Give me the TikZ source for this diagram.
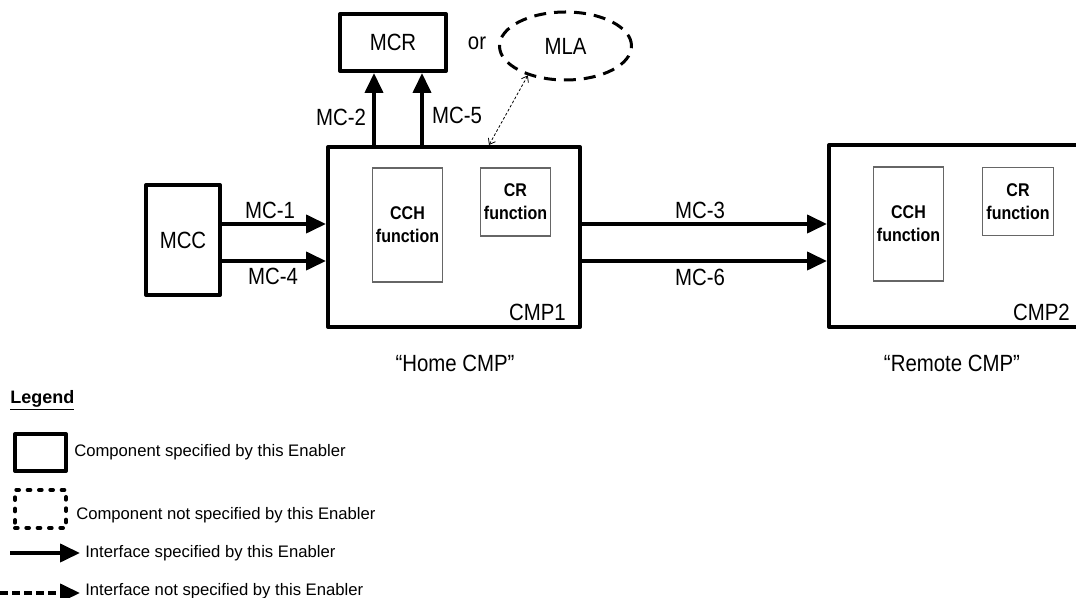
\documentclass[tikz,border=0pt]{standalone}
\usepackage{fontspec}
\setmainfont{Liberation Sans}
\usetikzlibrary{arrows.meta,shapes.geometric}
\newcommand\vstr[1]{\scalebox{1}[1.15]{#1}}
\begin{document}
\begin{tikzpicture}[x=0.75pt,y=-0.75pt,
  comp/.style={draw,line width=3pt,line join=round,inner sep=0pt},
  func/.style={draw=gray!80!black,line width=0.9pt,inner sep=0pt,outer sep=0pt,align=center,font=\fontsize{12}{17}\selectfont\bfseries,minimum width=53pt},
  lbl/.style={inner sep=0pt,font=\fontsize{15.3}{18}\selectfont},
  leg/.style={inner sep=0pt,anchor=west,font=\fontsize{12.5}{15}\selectfont},
  iface/.style={line width=3pt,-{Triangle[length=15pt,width=13.5pt]}},
]
\clip (0,0) rectangle (1076,598);
% top components
\node[comp,minimum width=79.5pt,minimum height=42.75pt,lbl] (MCR) at (393,42.5) {\vstr{MCR}};
\node[lbl] (or) at (477,43) {\vstr{or}};
\node[draw,ellipse,line width=2.25pt,dash pattern=on 9pt off 6pt,minimum width=99pt,minimum height=51pt,lbl] (MLA) at (565.5,46) {\vstr{MLA}};
% main components
\node[comp,minimum width=55.5pt,minimum height=82.5pt,lbl] (MCC) at (183,240) {\vstr{MCC}};
\node[comp,minimum width=189pt,minimum height=135pt] (CMP1) at (454,237) {};
\node[comp,minimum width=203.25pt,minimum height=136.5pt] (CMP2) at (964.5,236) {};
\node[func,minimum height=85.5pt] (CCH1) at (407.5,225) {\vstr{CCH}\\\vstr{function}};
\node[func,minimum height=51pt] (CR1) at (515.5,202) {\vstr{CR}\\\vstr{function}};
\node[func,minimum height=85.5pt] (CCH2) at (908.5,224) {\vstr{CCH}\\\vstr{function}};
\node[func,minimum height=51pt] (CR2) at (1018,201.5) {\vstr{CR}\\\vstr{function}};
\node[lbl,anchor=east] (CMP1l) at (566,312) {\vstr{CMP1}};
\node[lbl,anchor=east] (CMP2l) at (1070,312) {\vstr{CMP2}};
\node[lbl] (home) at (455,363) {\vstr{“Home CMP”}};
\node[lbl] (remote) at (952,363) {\vstr{“Remote CMP”}};
% interfaces
\coordinate (y1) at (0,224);
\coordinate (y4) at (0,261);
\coordinate (x2) at (374,0);
\coordinate (x5) at (422,0);
\coordinate (xd) at (489,0);
\draw[iface] (MCC.east |- y1) -- (CMP1.west |- y1);
\draw[iface] (MCC.east |- y4) -- (CMP1.west |- y4);
\draw[iface] (CMP1.east |- y1) -- (CMP2.west |- y1);
\draw[iface] (CMP1.east |- y4) -- (CMP2.west |- y4);
\draw[iface] (CMP1.north -| x2) -- (MCR.south -| x2);
\draw[iface] (CMP1.north -| x5) -- (MCR.south -| x5);
\draw[line width=0.6pt,dash pattern=on 2pt off 1.5pt,{Straight Barb[length=4pt,width=6pt]}-{Straight Barb[length=4pt,width=6pt]}] (MLA.218) -- (CMP1.north -| xd);
\node[lbl] (mc1) at (270,210) {\vstr{MC-1}};
\node[lbl] (mc4) at (273,276) {\vstr{MC-4}};
\node[lbl] (mc2) at (341,117) {\vstr{MC-2}};
\node[lbl] (mc5) at (457,115) {\vstr{MC-5}};
\node[lbl] (mc3) at (700,210) {\vstr{MC-3}};
\node[lbl] (mc6) at (700,277) {\vstr{MC-6}};
% legend
\node[inner sep=0pt,anchor=west,font=\fontsize{13.5}{16}\selectfont\bfseries] (legend) at (10,400) {\underline{Legend}};
\node[comp,minimum width=38.25pt,minimum height=27.75pt] (legbox1) at (40.5,452.5) {};
\node[draw,line width=3pt,line cap=round,dash pattern=on 2pt off 6.5pt,minimum width=38.25pt,minimum height=28.5pt,inner sep=0pt] (legbox2) at (40.5,509) {};
\node[leg] (legt1) at (74,452) {Component specified by this Enabler};
\node[leg] (legt2) at (76,515) {Component not specified by this Enabler};
\node[leg] (legt3) at (85,553) {Interface specified by this Enabler};
\node[leg] (legt4) at (85,591) {Interface not specified by this Enabler};
\coordinate (la1s) at (10,553);
\coordinate (la1e) at (80,553);
\coordinate (la2s) at (0,593);
\coordinate (la2e) at (80,593);
\draw[iface] (la1s) -- (la1e);
\draw[iface,dash pattern=on 6pt off 3pt] (la2s) -- (la2e);
\end{tikzpicture}
\end{document}
